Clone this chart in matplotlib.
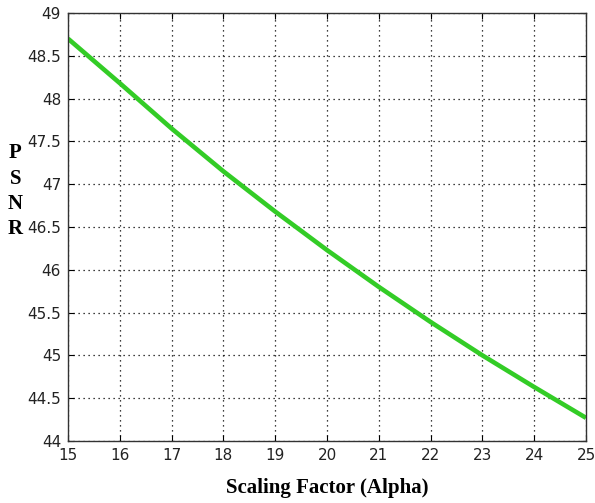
import matplotlib
matplotlib.use("Agg")
import matplotlib.pyplot as plt

# values at each integer alpha
alpha = [15, 16, 17, 18, 19, 20, 21, 22, 23, 24, 25]
psnr = [48.70, 48.18, 47.65, 47.15, 46.68, 46.23, 45.80, 45.39, 45.00, 44.63, 44.27]
xticks = list(range(15, 26))
yticks = [44, 44.5, 45, 45.5, 46, 46.5, 47, 47.5, 48, 48.5, 49]

fig = plt.figure(figsize=(5.95, 5.03), dpi=100)
ax = fig.add_axes([0.1143, 0.1233, 0.8706, 0.8509])

ax.plot(alpha, psnr, color=(0.2, 0.8, 0.15), lw=3.3, solid_capstyle="butt")

ax.set_xlim(15, 25)
ax.set_ylim(44, 49)
ax.set_xticks(xticks)
ax.set_yticks(yticks)
ax.set_xticklabels([str(t) for t in xticks])
ax.set_yticklabels([f"{t:g}" for t in yticks])
ax.grid(True, linestyle=(0, (1, 3)), color="black", linewidth=0.9)
ax.tick_params(direction="in", top=True, right=True, labelsize=11, length=4, pad=5,
               labelcolor="#222222")
for s in ax.spines.values():
    s.set_linewidth(1.0)
    s.set_color("#333333")

serif = {"family": "Liberation Serif", "weight": "bold", "size": 15}
ax.set_xlabel("Scaling Factor (Alpha)", fontdict=serif, labelpad=11)
fig.text(0.026, 0.62, "P\nS\nN\nR", fontdict=serif, ha="center", va="center",
         linespacing=1.35)

fig.savefig("out.png", dpi=100)
